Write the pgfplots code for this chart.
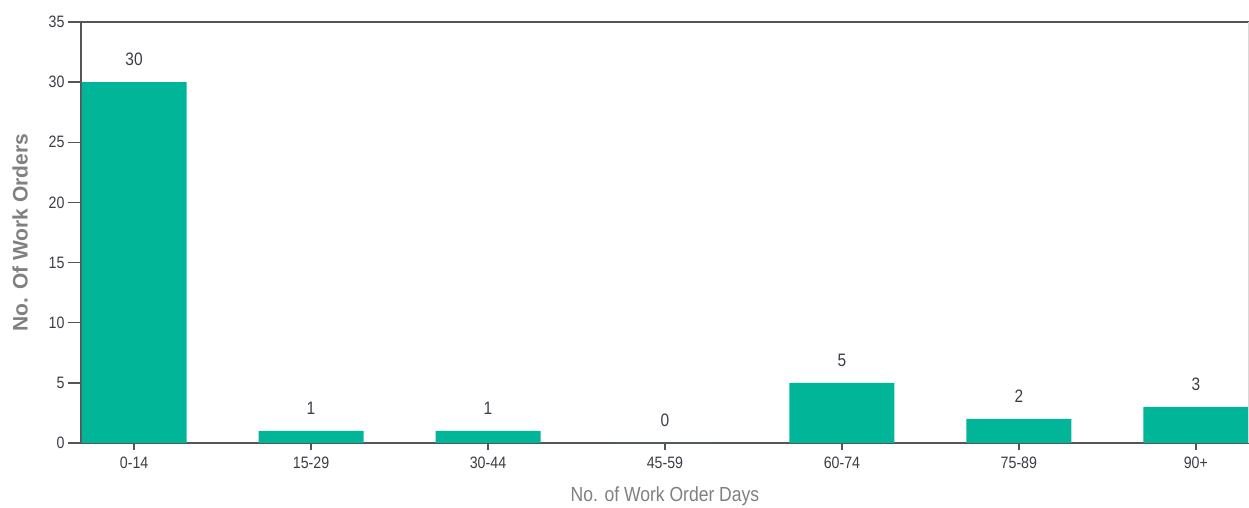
\documentclass[border=0pt]{standalone}
\usepackage{fontspec}
\setmainfont{Liberation Sans}[FakeStretch=0.86]
\newfontfamily\ylabfont{Liberation Sans}
\usepackage{pgfplots}
\pgfplotsset{compat=1.18}
\definecolor{barcol}{RGB}{0,181,152}
\definecolor{axiscol}{RGB}{85,85,85}
\definecolor{ticktext}{RGB}{60,60,70}
\definecolor{labgray}{RGB}{128,128,128}
\begin{document}
\begin{tikzpicture}[x=1pt,y=1pt]
\begin{axis}[
  at={(81pt,65pt)}, anchor=south west,
  scale only axis, width=1168pt, height=421pt,
  ybar, bar width=105pt,
  xmin=-0.3, xmax=6.3, ymin=0, ymax=35,
  axis lines*=left,
  axis line style={axiscol, line width=1.6pt, -},
  xtick={0,...,6},
  xticklabels={0-14,15-29,30-44,45-59,60-74,75-89,90+},
  ytick={0,5,...,35},
  tick align=outside,
  major tick length=13pt,
  xtick style={axiscol, line width=1.4pt, /pgfplots/major tick length=7pt},
  ytick style={axiscol, line width=1.4pt},
  /pgf/number format/assume math mode=true,
  tick label style={font=\fontsize{16.5}{18}\selectfont, text=ticktext},
  xticklabel style={yshift=3pt},
  xlabel={No. of Work Order Days},
  ylabel={No. Of Work Orders},
  xlabel style={at={(axis description cs:0.5,0)}, anchor=center, yshift=-53pt, font=\fontsize{20.4}{22}\selectfont, text=labgray},
  ylabel style={at={(axis description cs:0,0.5)}, anchor=center, yshift=61pt, font=\ylabfont\bfseries\fontsize{21}{23}\selectfont, text=labgray},
  nodes near coords,
  every node near coord/.append style={font=\fontsize{18}{20}\selectfont, text=ticktext, yshift=13pt},
  clip=false,
]
\addplot[fill=barcol, draw=none] coordinates {(0,30) (1,1) (2,1) (3,0) (4,5) (5,2) (6,3)};
\draw[axiscol, line width=1.6pt] (rel axis cs:0,1) -- (rel axis cs:1,1);
\draw[black!15, line width=1pt] (rel axis cs:1,0) -- (rel axis cs:1,1);
\end{axis}
\pgfresetboundingbox
\path[use as bounding box] (0,0) rectangle (1249pt,508pt);
\end{tikzpicture}
\end{document}
